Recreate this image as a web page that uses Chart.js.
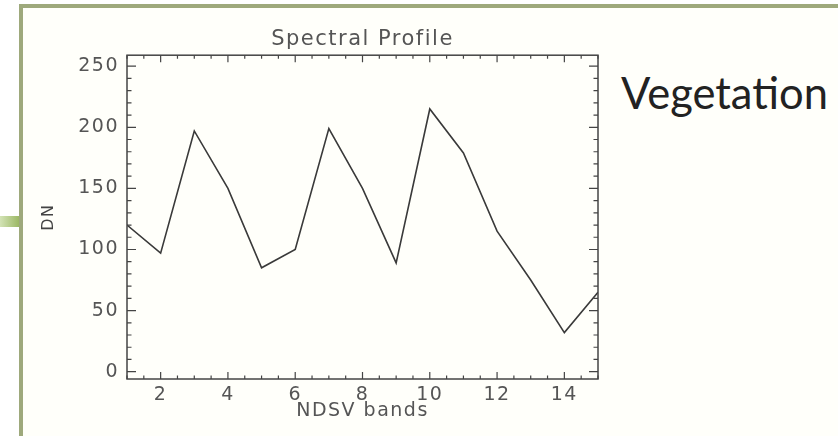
<!DOCTYPE html>
<html>
<head>
<meta charset="utf-8">
<script src="https://cdn.jsdelivr.net/npm/chart.js@4/dist/chart.umd.min.js"></script>
<style>
  body { margin: 0; background: #fff; }
  #wrap { position: relative; width: 838px; height: 436px; overflow: hidden; background: #fff; }
  #frame { position: absolute; left: 19px; top: 4px; width: 830px; height: 440px;
           border-left: 4px solid #9ea97c; border-top: 4px solid #9ea97c; background: #fffffa; }
  #stub { position: absolute; left: 0; top: 216px; width: 19px; height: 11px;
          background: linear-gradient(to right, #d3e3b6, #9cb865); }
  #veg { position: absolute; left: 621px; top: 66px; font-family: Lato, sans-serif;
         font-size: 43.5px; color: #222; }
  canvas { position: absolute; left: 0; top: 0; }
</style>
</head>
<body>
<div id="wrap">
  <div id="frame"></div>
  <div id="stub"></div>
  <div id="veg">Vegetation</div>
  <canvas id="grafico" width="838" height="436"></canvas>
</div>
<script>
const bands = [1, 2, 3, 4, 5, 6, 7, 8, 9, 10, 11, 12, 13, 14, 15]
const dn = [120, 97, 197, 150, 85, 100, 199, 150, 89, 215, 179, 115, 75, 32, 65]
const xTicks = [2, 4, 6, 8, 10, 12, 14]
const yTicks = [0, 50, 100, 150, 200, 250]

const labelFont = { family: 'DejaVu Sans', size: 19 }
const inkColor = '#555'

// the IDL vector font is wide, so spread all chart text a little
const wideText = {
  id: 'wideText',
  beforeDraw(chart) { chart.ctx.letterSpacing = '1.5px' }
}

// IDL-style box with inward ticks on all four sides
const boxTicks = {
  id: 'boxTicks',
  afterDatasetsDraw(chart) {
    const { ctx, chartArea: a, scales: { x, y } } = chart
    ctx.save()
    ctx.strokeStyle = '#444'
    ctx.lineWidth = 1.5
    ctx.strokeRect(a.left, a.top, a.right - a.left, a.bottom - a.top)
    ctx.lineWidth = 1.2
    for (let v = 1; v <= 15.001; v += 0.5) {
      const px = x.getPixelForValue(v)
      const len = xTicks.includes(v) ? 7 : 3.5
      ctx.beginPath()
      ctx.moveTo(px, a.bottom); ctx.lineTo(px, a.bottom - len)
      ctx.moveTo(px, a.top); ctx.lineTo(px, a.top + len)
      ctx.stroke()
    }
    for (let v = 0; v <= 250; v += 10) {
      const py = y.getPixelForValue(v)
      const len = yTicks.includes(v) ? 9 : 4.5
      ctx.beginPath()
      ctx.moveTo(a.left, py); ctx.lineTo(a.left + len, py)
      ctx.moveTo(a.right, py); ctx.lineTo(a.right - len, py)
      ctx.stroke()
    }
    ctx.restore()
  }
}

new Chart(document.querySelector('#grafico'), {
  type: 'line',
  data: {
    datasets: [{
      label: 'Vegetation',
      data: bands.map((b, i) => ({ x: b, y: dn[i] })),
      borderColor: '#3a3a3a',
      borderWidth: 1.6,
      pointRadius: 0,
      tension: 0
    }]
  },
  options: {
    responsive: false,
    animation: false,
    layout: { padding: { left: 0, right: 240, top: 0, bottom: 0 } },
    plugins: {
      legend: { display: false },
      tooltip: { enabled: false },
      title: {
        display: true,
        fullSize: false,
        text: 'Spectral Profile',
        color: inkColor,
        font: { family: 'DejaVu Sans', size: 21, weight: 'normal' },
        padding: { top: 27, bottom: 3 }
      }
    },
    scales: {
      x: {
        type: 'linear',
        min: 1,
        max: 15,
        afterBuildTicks: (s) => { s.ticks = xTicks.map(v => ({ value: v })) },
        afterFit: (s) => { s.height = 57 },
        grid: { display: false, drawTicks: false },
        border: { display: false },
        ticks: { color: inkColor, font: labelFont, padding: 5, maxRotation: 0 },
        title: { display: true, text: 'NDSV bands', color: inkColor,
                 font: { family: 'DejaVu Sans', size: 19 }, padding: { top: 0, bottom: 14 } }
      },
      y: {
        min: -6,
        max: 259,
        afterBuildTicks: (s) => { s.ticks = yTicks.map(v => ({ value: v })) },
        afterFit: (s) => { s.width = 127 },
        grid: { display: false, drawTicks: false },
        border: { display: false },
        ticks: { color: inkColor, font: labelFont, padding: 8 },
        title: { display: true, text: 'DN', color: '#444',
                 font: { family: 'DejaVu Sans', size: 16 }, padding: { top: 39, bottom: 0 } }
      }
    }
  },
  plugins: [wideText, boxTicks]
})
</script>
</body>
</html>
